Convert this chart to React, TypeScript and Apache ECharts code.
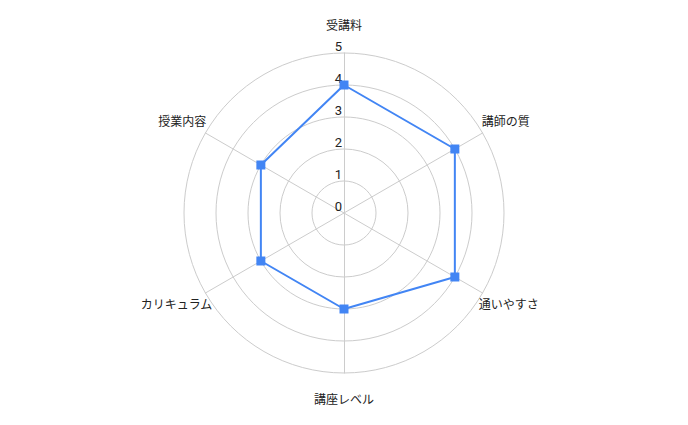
import React, { useEffect, useRef } from 'react';
import * as echarts from 'echarts';

// clockwise from the top, as in the reference
const indicators = ['受講料', '講師の質', '通いやすさ', '講座レベル', 'カリキュラム', '授業内容'];
const scores = [4, 4, 4, 3, 3, 3];
const maxScore = 5;

const FONT = 'Roboto, "Noto Sans CJK JP", sans-serif';

// ECharts lays radar indicators out counter-clockwise, so keep the first and reverse the rest
const order = [0, ...indicators.map((_, i) => i).slice(1).reverse()];

// label nudges (style only): top, bottom, upper sides, lower right, lower left
const nameStyleKey = (i: number) => {
  if (i === 0) return 't';
  if (i === 3) return 'b';
  if (i === 1 || i === 5) return 'u';
  if (i === 2) return 'dr';
  return 'dl';
};

const App: React.FC = () => {
  const chartRef = useRef<HTMLDivElement>(null);

  useEffect(() => {
    if (!chartRef.current) return;
    const chart = echarts.init(chartRef.current, undefined, { renderer: 'svg' });
    const base = { color: '#222', fontSize: 12, fontFamily: FONT };
    chart.setOption({
      animation: false,
      textStyle: { fontFamily: FONT },
      radar: {
        center: [344, 213],
        radius: 160,
        shape: 'circle',
        splitNumber: 5,
        nameGap: -1,
        startAngle: 90,
        axisName: {
          ...base,
          formatter: (name: string) => `{${nameStyleKey(indicators.indexOf(name))}|${name}}`,
          rich: {
            t: { ...base, padding: [0, 0, 22, 0] },
            b: { ...base, padding: [22, 0, 0, 0] },
            u: { ...base, padding: [0, 0, 24, 0] },
            dr: { ...base, padding: [25, 0, 0, -3] },
            dl: { ...base, padding: [25, -6, 0, 0] },
          },
        },
        axisLine: { lineStyle: { color: '#ccc', width: 1 } },
        splitLine: { lineStyle: { color: '#ccc', width: 1 } },
        splitArea: { show: false },
        axisTick: { show: false },
        axisLabel: { show: false },
        indicator: order.map((i) => ({
          name: indicators[i],
          min: 0,
          max: maxScore,
          ...(i === 0
            ? {
                axisLabel: {
                  show: true,
                  color: '#222',
                  fontSize: 13,
                  fontFamily: FONT,
                  margin: 2,
                  verticalAlign: 'bottom',
                },
              }
            : {}),
        })),
      },
      series: [
        {
          type: 'radar',
          symbol: 'rect',
          symbolSize: 9,
          lineStyle: { color: '#4285f4', width: 2 },
          itemStyle: { color: '#4285f4' },
          data: [{ value: order.map((i) => scores[i]) }],
        },
      ],
    });
    return () => chart.dispose();
  }, []);

  return (
    <div
      ref={chartRef}
      style={{ position: 'fixed', left: 0, top: 0, width: 688, height: 425, background: '#fff' }}
    />
  );
};

export default App;
